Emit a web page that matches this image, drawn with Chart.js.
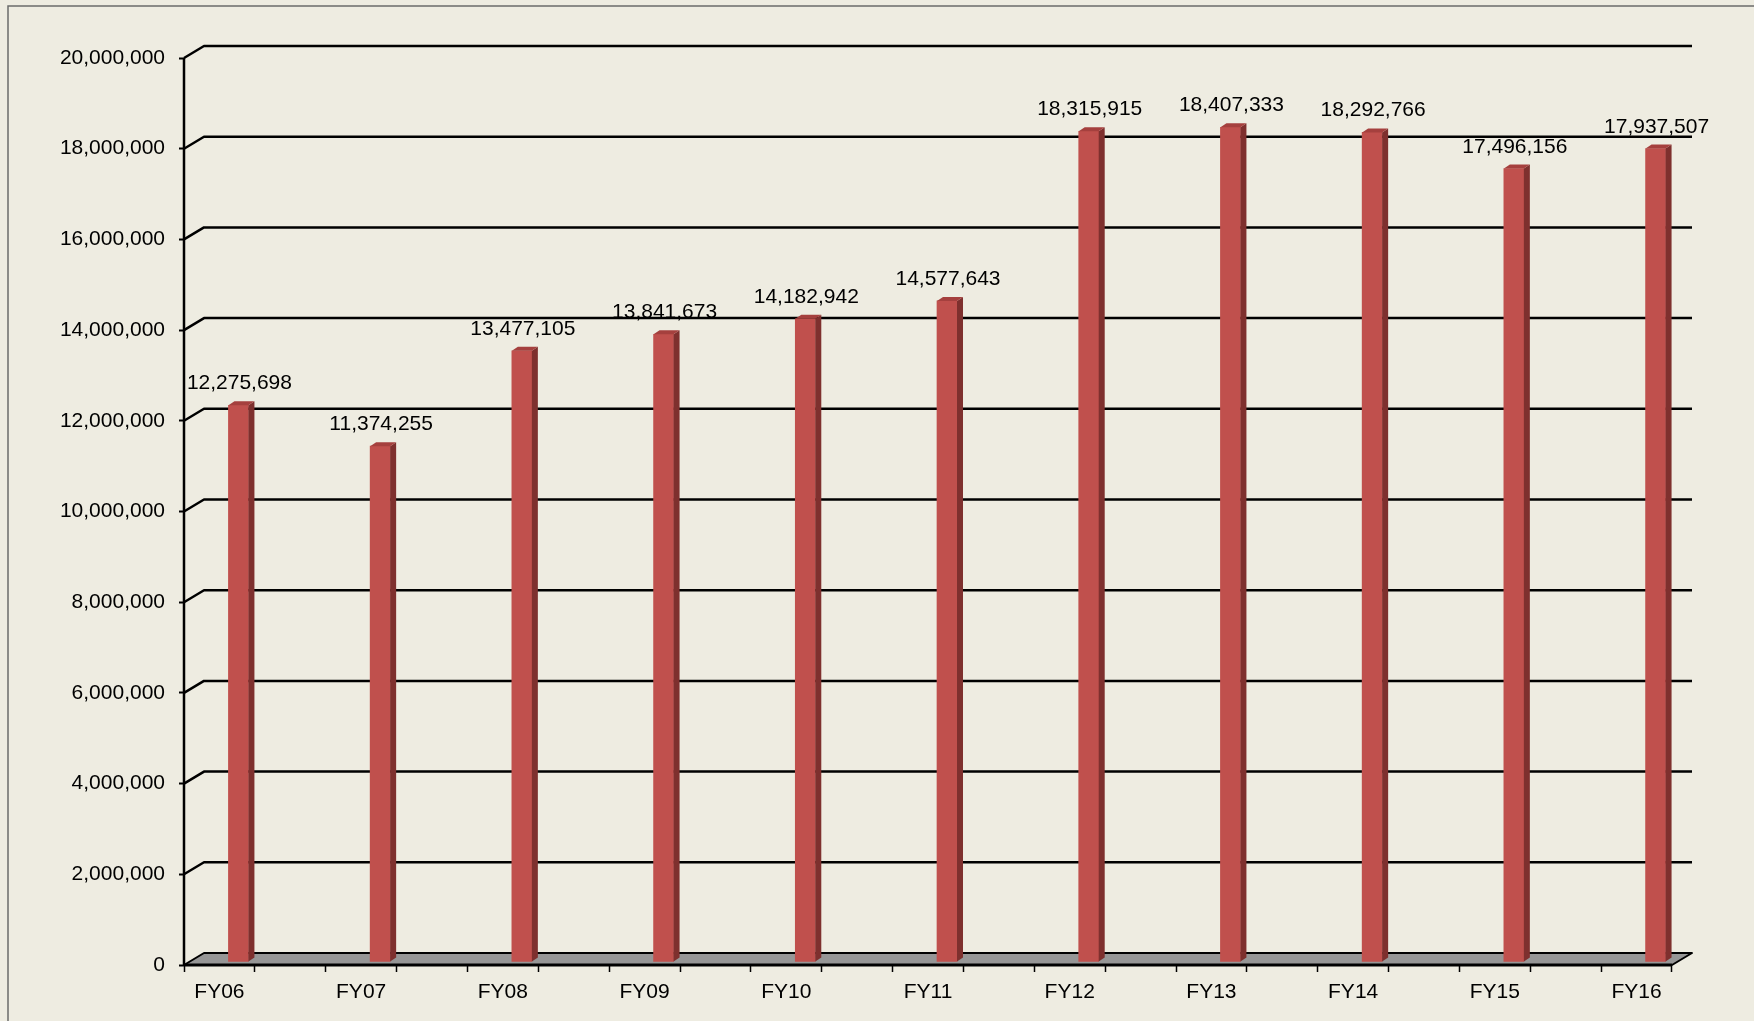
<!DOCTYPE html>
<html lang="en">
<head>
<meta charset="UTF-8">
<title>FY06 - FY16</title>
<script src="https://cdn.jsdelivr.net/npm/chart.js"></script>
<style>
    html, body { margin: 0; padding: 0; background: #EEECE1; }
    .chart-box { width: 1754px; height: 1021px; position: relative; }
</style>
</head>
<body>

<div class="chart-box"><canvas id="fyChart"></canvas></div>

<script>
    // Values
    const categories = ["FY06", "FY07", "FY08", "FY09", "FY10", "FY11", "FY12", "FY13", "FY14", "FY15", "FY16"];
    const values = [12275698, 11374255, 13477105, 13841673, 14182942, 14577643, 18315915, 18407333, 18292766, 17496156, 17937507];
    const yTicks = [0, 2000000, 4000000, 6000000, 8000000, 10000000, 12000000, 14000000, 16000000, 18000000, 20000000];

    // The sheet has an empty slot between every two years
    const slotLabels = [];
    const slotValues = [];
    categories.forEach((c, i) => {
        if (i > 0) { slotLabels.push(""); slotValues.push(null); }
        slotLabels.push(c);
        slotValues.push(values[i]);
    });

    // 3D look
    const WALL_DX = 20, WALL_DY = -12;   // back wall depth
    const BAR_DX = 19, BAR_DY = -3;      // where the bars stand
    const SIDE_DX = 6, SIDE_DY = -4;     // bar depth
    const FONT = '"Liberation Sans", Arial, sans-serif';

    const frame3d = {
        id: "frame3d",
        beforeDraw(chart) {
            let ctx = chart.ctx;
            ctx.save();
            ctx.strokeStyle = "#6b6b6b";
            ctx.lineWidth = 1.5;
            ctx.strokeRect(8, 6, chart.width + 20, chart.height + 20);
            ctx.restore();
        },
        beforeDatasetsDraw(chart) {
            let ctx = chart.ctx;
            let a = chart.chartArea;
            let y = chart.scales.y;

            ctx.save();
            ctx.lineJoin = "round";
            ctx.strokeStyle = "#000";

            // floor
            ctx.beginPath();
            ctx.moveTo(a.left, a.bottom);
            ctx.lineTo(a.right, a.bottom);
            ctx.lineTo(a.right + WALL_DX, a.bottom + WALL_DY);
            ctx.lineTo(a.left + WALL_DX, a.bottom + WALL_DY);
            ctx.closePath();
            ctx.fillStyle = "#969696";
            ctx.fill();
            ctx.lineWidth = 2;
            ctx.stroke();
            ctx.beginPath();
            ctx.moveTo(a.left, a.bottom);
            ctx.lineTo(a.right, a.bottom);
            ctx.lineWidth = 3;
            ctx.stroke();

            // gridlines on side and back wall
            ctx.lineWidth = 2.5;
            y.ticks.forEach(t => {
                if (t.value === 0) return;
                let py = y.getPixelForValue(t.value);
                ctx.beginPath();
                ctx.moveTo(a.left, py);
                ctx.lineTo(a.left + WALL_DX, py + WALL_DY);
                ctx.lineTo(a.right + WALL_DX, py + WALL_DY);
                ctx.stroke();
            });

            // value axis line
            ctx.beginPath();
            ctx.moveTo(a.left, a.top);
            ctx.lineTo(a.left, a.bottom);
            ctx.stroke();
            ctx.restore();
        },
        beforeDatasetDraw(chart) {
            chart.ctx.save();
            chart.ctx.translate(BAR_DX, BAR_DY);
        },
        afterDatasetDraw(chart, args) {
            let ctx = chart.ctx;
            args.meta.data.forEach((bar, i) => {
                if (slotValues[i] == null) return;
                let p = bar.getProps(["x", "y", "base", "width"], true);
                let l = p.x - p.width / 2;
                let r = p.x + p.width / 2;

                // side face
                ctx.fillStyle = "#7E302E";
                ctx.beginPath();
                ctx.moveTo(r, p.y);
                ctx.lineTo(r + SIDE_DX, p.y + SIDE_DY);
                ctx.lineTo(r + SIDE_DX, p.base + SIDE_DY);
                ctx.lineTo(r, p.base);
                ctx.closePath();
                ctx.fill();

                // top face
                ctx.fillStyle = "#A5403E";
                ctx.beginPath();
                ctx.moveTo(l, p.y);
                ctx.lineTo(l + SIDE_DX, p.y + SIDE_DY);
                ctx.lineTo(r + SIDE_DX, p.y + SIDE_DY);
                ctx.lineTo(r, p.y);
                ctx.closePath();
                ctx.fill();

                // value label
                ctx.fillStyle = "#000";
                ctx.font = "21px " + FONT;
                ctx.textAlign = "center";
                ctx.textBaseline = "alphabetic";
                ctx.fillText(slotValues[i].toLocaleString("en-US"), p.x + 1, p.y - 16);
            });
            ctx.restore();
        }
    };

    Chart.defaults.font.family = FONT;
    Chart.defaults.font.size = 21;
    Chart.defaults.color = "#000";

    new Chart(document.getElementById("fyChart"), {
        type: "bar",
        data: {
            labels: slotLabels,
            datasets: [{
                data: slotValues,
                backgroundColor: "#C0504D",
                borderWidth: 0,
                barThickness: 20,
                clip: false
            }]
        },
        options: {
            responsive: true,
            maintainAspectRatio: false,
            animation: false,
            layout: { padding: { top: 58, right: 82, left: 0, bottom: 0 } },
            plugins: {
                legend: { display: false },
                tooltip: { enabled: false }
            },
            scales: {
                x: {
                    offset: true,
                    afterFit: s => { s.height = 56; },
                    grid: {
                        offset: true,
                        drawOnChartArea: false,
                        drawTicks: true,
                        tickLength: 7,
                        tickColor: "#000",
                        tickWidth: 1.5
                    },
                    border: { display: false },
                    ticks: { autoSkip: false, maxRotation: 0, padding: 8 }
                },
                y: {
                    min: 0,
                    max: 20000000,
                    afterFit: s => { s.width = 184; },
                    afterBuildTicks: s => { s.ticks = yTicks.map(v => ({ value: v })); },
                    grid: {
                        drawOnChartArea: false,
                        drawTicks: true,
                        tickLength: 5,
                        tickColor: "#000",
                        tickWidth: 2
                    },
                    border: { display: false },
                    ticks: {
                        padding: 14,
                        callback: v => v.toLocaleString("en-US")
                    }
                }
            }
        },
        plugins: [frame3d]
    });
</script>

</body>
</html>
